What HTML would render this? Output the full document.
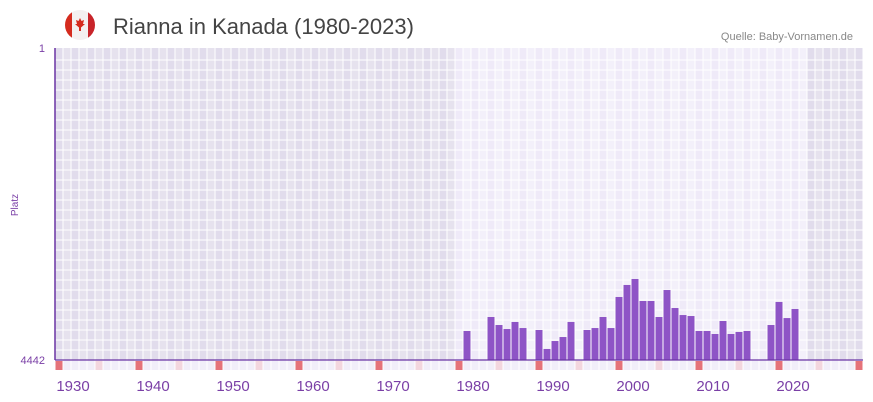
<!DOCTYPE html>
<html><head><meta charset="utf-8"><style>
body{margin:0;background:#fff;font-family:"Liberation Sans",sans-serif;}
#wrap{position:relative;width:873px;height:402px;overflow:hidden}
</style></head><body>
<div id="wrap">
<svg id="svg" width="873" height="402" xmlns="http://www.w3.org/2000/svg">
  <g>
    <clipPath id="fc"><circle cx="80" cy="25" r="15"/></clipPath>
    <circle cx="80" cy="25" r="15" fill="#f4f0f0"/>
    <rect x="64" y="9" width="8" height="32" fill="#d52b1e" clip-path="url(#fc)"/>
    <rect x="88" y="9" width="8" height="32" fill="#c8242a" clip-path="url(#fc)"/>
    <path d="M80,18 L81.5,21 L84,20 L83,24 L85,24 L81,27.5 L81,31 L79,31 L79,27.5 L75,24 L77,24 L76,20 L78.5,21 Z" fill="#d52b1e"/>
  </g>
  <text x="113" y="34" font-size="22" fill="#444">Rianna in Kanada (1980-2023)</text>
  <text x="853" y="40" font-size="11" fill="#888" text-anchor="end">Quelle: Baby-Vornamen.de</text>
  <g id="bg"></g>
  <g id="bars"></g>
  <g id="axes"></g>
</svg>
</div>
<script>
const years = [1979,1982,1983,1984,1985,1986,1988,1989,1990,1991,1992,1994,1995,1996,1997,1998,1999,2000,2001,2002,2003,2004,2005,2006,2007,2008,2009,2010,2011,2012,2013,2014,2017,2018,2019,2020];
const ranks = [4029,3830,3944,4001,3901,3987,4015,4285,4172,4115,3901,4015,3987,3830,3987,3545,3374,3289,3602,3602,3830,3446,3702,3802,3816,4029,4029,4072,3887,4072,4043,4029,3944,3616,3845,3716];
const xTicks = [1930,1940,1950,1960,1970,1980,1990,2000,2010,2020];
const yTicks = [1,4442];

const NS="http://www.w3.org/2000/svg";
const X0=55,X1=863,Y0=48,Y1=360,YMIN=1928,YMAX=2028;
const xs=y=>59+(y-YMIN)*8;
const ys=r=>Y0+(r-1)/(4442-1)*(Y1-Y0);
function mk(t,a,p){const e=document.createElementNS(NS,t);for(const k in a)e.setAttribute(k,a[k]);p.appendChild(e);return e;}
const bg=document.getElementById('bg'),bars=document.getElementById('bars'),axes=document.getElementById('axes');
for(let y=YMIN;y<=YMAX;y++){
  const shaded = y<1978 || y>=2022;
  const odd = (y%2===0);
  const col = shaded ? (odd?'#e1dcec':'#e6e2ee') : (odd?'#efeaf8':'#f3f0fa');
  const c=mk('rect',{x:xs(y)-4,y:Y0,width:8,height:Y1-Y0,fill:col},bg);
  
}
let r=mk('rect',{x:X0,y:Y1,width:X1-X0,height:10,fill:'#f1eef9'},bg);

for(let y=YMIN;y<=YMAX;y++){
  const m=y%10;
  if(m===8||m===3){
    const c=mk('rect',{x:xs(y)-4,y:Y1+1,width:8,height:9,fill:m===8?'#e5737a':'#f3d6de'},bg);
    
  }
}
for(let y=YMIN;y<=YMAX+1;y++){
  const l=mk('line',{x1:xs(y)-4,x2:xs(y)-4,y1:Y0,y2:Y1+10,stroke:'#fff','stroke-width':1},bg);
  
}
for(let yy=Y0+12;yy<Y1+10;yy+=10){
  const l=mk('line',{x1:X0,x2:X1,y1:yy,y2:yy,stroke:'#fff','stroke-width':1},bg);
  
}
years.forEach((y,i)=>{
  const top=ys(ranks[i]);
  const b=mk('rect',{x:xs(y)-3.5,y:top,width:7,height:Y1-top,fill:'#8e54c6'},bars);
  
});
let a=mk('line',{x1:X0,x2:X0,y1:Y0,y2:Y1,stroke:'#6a34a4','stroke-width':1.5},axes);

a=mk('line',{x1:X0,x2:X1,y1:Y1,y2:Y1,stroke:'#6a34a4','stroke-width':1.2},axes);

xTicks.forEach(t=>{
  const e=mk('text',{x:xs(t)-2,y:391,'font-size':15,fill:'#7a3fa6','text-anchor':'middle'},axes);
  e.textContent=t;
});
yTicks.forEach(t=>{
  const e=mk('text',{x:45,y:ys(t)+4,'font-size':11,fill:'#7a3fa6','text-anchor':'end'},axes);
  e.textContent=t;
});
const yt=mk('text',{x:18,y:205,'font-size':10,fill:'#7a3fa6','text-anchor':'middle',transform:'rotate(-90 18 205)'},axes);
yt.textContent='Platz';
</script>
</body></html>
